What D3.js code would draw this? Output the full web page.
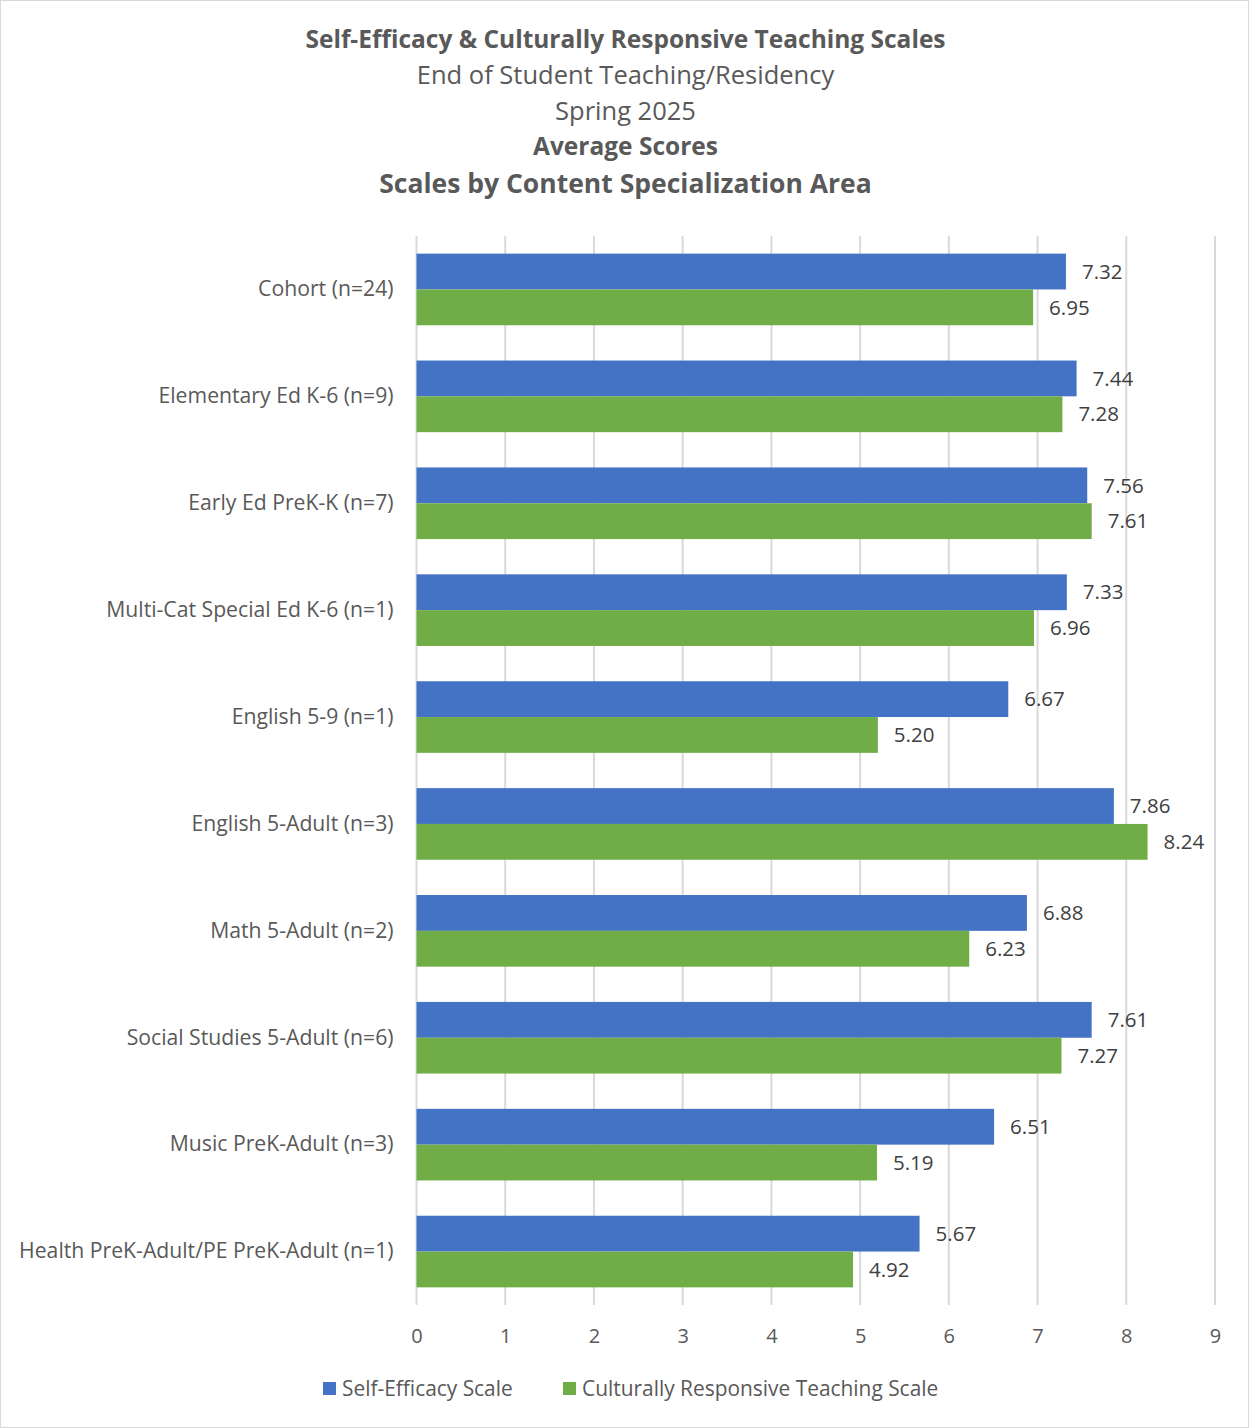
<!DOCTYPE html>
<html>
<head>
<meta charset="utf-8">
<script src="https://cdn.jsdelivr.net/npm/d3@7"></script>
<style>
  body { margin: 0; background: #fff; }
  text { font-family: "Open Sans", "Noto Sans", sans-serif; }
</style>
</head>
<body>
<div id="chart"></div>
<script>
// chart data
var categories = [
  'Cohort (n=24)',
  'Elementary Ed K-6 (n=9)',
  'Early Ed PreK-K (n=7)',
  'Multi-Cat Special Ed K-6 (n=1)',
  'English 5-9 (n=1)',
  'English 5-Adult (n=3)',
  'Math 5-Adult (n=2)',
  'Social Studies 5-Adult (n=6)',
  'Music PreK-Adult (n=3)',
  'Health PreK-Adult/PE PreK-Adult (n=1)'
];
var selfEfficacy = [7.32, 7.44, 7.56, 7.33, 6.67, 7.86, 6.88, 7.61, 6.51, 5.67];
var culturallyResponsive = [6.95, 7.28, 7.61, 6.96, 5.20, 8.24, 6.23, 7.27, 5.19, 4.92];
var seriesNames = ['Self-Efficacy Scale', 'Culturally Responsive Teaching Scale'];
var xTicks = [0, 1, 2, 3, 4, 5, 6, 7, 8, 9];
var titleLines = [
  {text: 'Self-Efficacy & Culturally Responsive Teaching Scales', bold: true, size: 24.5},
  {text: 'End of Student Teaching/Residency', bold: false, size: 25.5},
  {text: 'Spring 2025', bold: false, size: 25.5},
  {text: 'Average Scores', bold: true, size: 24.5},
  {text: 'Scales by Content Specialization Area', bold: true, size: 26.5}
];

var W = 1249, H = 1428;
var margin = {top: 236, right: 34, bottom: 123, left: 416.5};
var width = W - margin.left - margin.right,
    height = H - margin.top - margin.bottom;
var colors = ['#4472c4', '#70ad47'];

var svg = d3.select('#chart')
  .append('svg')
    .attr('width', W)
    .attr('height', H);

// outer frame
svg.append('rect')
  .attr('x', 0.5).attr('y', 0.5)
  .attr('width', W - 1).attr('height', H - 1)
  .attr('fill', '#fff')
  .attr('stroke', '#d9d9d9');

// titles
var titleY = [39, 75, 111, 146, 184];
titleLines.forEach(function(t, i) {
  svg.append('text')
    .attr('x', W / 2 + 1)
    .attr('y', titleY[i])
    .attr('dy', '0.35em')
    .attr('text-anchor', 'middle')
    .style('font-size', t.size + 'px')
    .style('font-weight', t.bold ? 700 : 400)
    .attr('fill', '#595959')
    .text(t.text);
});

var g = svg.append('g')
  .attr('transform', 'translate(' + margin.left + ',' + margin.top + ')');

var x = d3.scaleLinear().domain([0, 9]).range([0, 798.5]);
var y = d3.scaleBand().domain(categories).range([0, height]).paddingInner(0.33).paddingOuter(0.165);
var ySub = d3.scaleBand().domain([0, 1]).range([0, y.bandwidth()]);

// gridlines
g.selectAll('.grid')
  .data(xTicks)
  .enter()
  .append('line')
    .attr('x1', function(d) { return x(d); })
    .attr('x2', function(d) { return x(d); })
    .attr('y1', 0)
    .attr('y2', height)
    .attr('stroke', '#d9d9d9')
    .attr('stroke-width', 2);

// x axis labels
var xAxis = g.append('g')
  .attr('transform', 'translate(0,' + height + ')')
  .call(d3.axisBottom(x).tickValues(xTicks).tickSize(0).tickPadding(24).tickFormat(d3.format('d')));
xAxis.select('.domain').remove();
xAxis.selectAll('text')
  .style('font-size', '20px')
  .style('font-family', '"Open Sans", sans-serif')
  .attr('fill', '#595959');

// y axis labels
var yAxis = g.append('g')
  .call(d3.axisLeft(y).tickSize(0).tickPadding(23));
yAxis.select('.domain').remove();
yAxis.selectAll('text')
  .style('font-size', '21.2px')
  .style('font-family', '"Open Sans", sans-serif')
  .attr('fill', '#595959');

// bars
var rows = categories.map(function(c, i) {
  return {cat: c, values: [selfEfficacy[i], culturallyResponsive[i]]};
});

var groups = g.selectAll('.row')
  .data(rows)
  .enter()
  .append('g')
    .attr('transform', function(d) { return 'translate(0,' + y(d.cat) + ')'; });

groups.selectAll('rect')
  .data(function(d) { return d.values; })
  .enter()
  .append('rect')
    .attr('x', x(0))
    .attr('y', function(d, i) { return ySub(i); })
    .attr('width', function(d) { return x(d) - x(0); })
    .attr('height', ySub.bandwidth())
    .attr('fill', function(d, i) { return colors[i]; });

groups.selectAll('.val')
  .data(function(d) { return d.values; })
  .enter()
  .append('text')
    .text(function(d) { return d.toFixed(2); })
    .attr('x', function(d) { return x(d) + 16; })
    .attr('y', function(d, i) { return ySub(i) + ySub.bandwidth() / 2; })
    .attr('dy', '0.35em')
    .style('font-size', '20.5px')
    .attr('fill', '#404040');

// legend
var legendX = [323, 563];
seriesNames.forEach(function(name, i) {
  svg.append('rect')
    .attr('x', legendX[i]).attr('y', 1382)
    .attr('width', 13).attr('height', 13)
    .attr('fill', colors[i]);
  svg.append('text')
    .attr('x', legendX[i] + 19)
    .attr('y', 1389)
    .attr('dy', '0.35em')
    .style('font-size', '20.9px')
    .attr('fill', '#595959')
    .text(name);
});
</script>
</body>
</html>
